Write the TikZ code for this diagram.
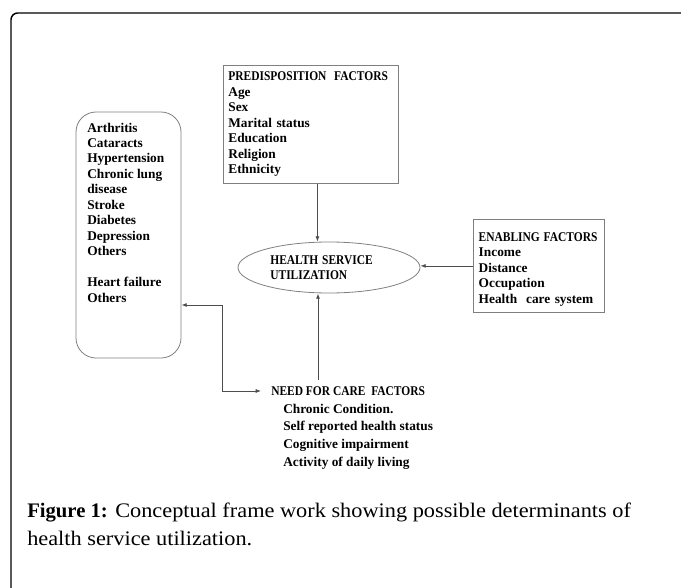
\documentclass[tikz,border=0pt]{standalone}
\usepackage{fontspec}
\setmainfont{Liberation Serif}
\newfontfamily\captionfont[FakeStretch=1.08]{Liberation Serif}
\usetikzlibrary{
  arrows.meta,
  shapes.geometric,
  positioning
}
\definecolor{boxline}{HTML}{7F7F7F}
\definecolor{arrline}{HTML}{4D4D4D}
\newcommand\narrowcaps[1]{\scalebox{0.86}[1]{#1}}
\tikzset{
  itemtext/.style={align=left, inner sep=0pt, font=\fontsize{10}{11.6}\selectfont\bfseries},
  factorbox/.style={itemtext, draw=boxline, line width=0.6pt, inner xsep=3.75pt, inner ysep=3pt},
  flow/.style={draw=arrline, line width=0.6pt, -{Latex[length=4pt,width=3pt]}},
  twoway/.style={draw=arrline, line width=0.6pt, {Latex[length=4pt,width=3pt]}-{Latex[length=4pt,width=3pt]}}
}

\begin{document}
\begin{tikzpicture}[x=0.75pt, y=-0.75pt]
  \useasboundingbox (0,0) rectangle (681,588);
  \clip (0,0) rectangle (681,588);
  % outer frame
  \draw[line width=1.1pt, rounded corners=5pt] (11,13) rectangle (720,640);

  % factor boxes
  \node[factorbox, anchor=north west, text width=123.75pt, minimum height=88.5pt] (predisp) at (223,65)
    {\narrowcaps{PREDISPOSITION\ \ FACTORS}\\Age\\Sex\\Marital status\\Education\\Religion\\Ethnicity};
  \node[factorbox, anchor=north west, text width=90pt, inner xsep=4pt, minimum height=69.75pt] (enab) at (473,219)
    {\hspace{1.5pt}\narrowcaps{ENABLING FACTORS}\\Income\\Distance\\Occupation\\Health\ \ care system};
  \node[ellipse, draw=boxline, line width=0.6pt, itemtext, text width=88pt,
        minimum width=136.5pt, minimum height=38.25pt] (hsu) at (329,267.5)
    {\narrowcaps{HEALTH SERVICE}\\\narrowcaps{UTILIZATION}};

  % chronic conditions
  \node[draw=boxline, line width=0.6pt, rounded corners=15pt,
        minimum width=78.75pt, minimum height=184.5pt] (cond) at (128.5,235) {};
  \node[itemtext, anchor=north west] (condlist) at (87,122.5)
    {Arthritis\\Cataracts\\Hypertension\\Chronic lung\\disease\\Stroke\\Diabetes\\Depression\\Others\\[11.6pt]Heart failure\\Others};

  % need for care
  \node[itemtext, anchor=west] (needhead) at (271,391) {\narrowcaps{NEED FOR CARE\ \ FACTORS}};
  \node[itemtext, font=\fontsize{10}{13.2}\selectfont\bfseries, anchor=north west,
        below right=6pt and 9pt of needhead.south west] (needlist)
    {Chronic Condition.\\Self reported health status\\Cognitive impairment\\Activity of daily living};

  % connectors
  \coordinate (needtop) at (318,380);
  \coordinate (elbow) at (222,305);
  \draw[flow] ([xshift=4.9pt]predisp.south) -- ([xshift=4.9pt]predisp.south |- hsu.north);
  \draw[flow] (enab.west) -- (enab.west -| hsu.east);
  \draw[flow] (needtop) -- (needtop |- hsu.south);
  \draw[twoway] (elbow -| cond.east) -- (elbow) |- ([xshift=-7.5pt]needhead.west);

  % caption
  \node[anchor=north west, inner sep=0pt, align=left, font=\captionfont\fontsize{15.5}{21}\selectfont] (caption) at (27,502.5)
    {{\rmfamily\bfseries Figure 1:} Conceptual frame work showing possible determinants of\\health service utilization.};
\end{tikzpicture}
\end{document}
